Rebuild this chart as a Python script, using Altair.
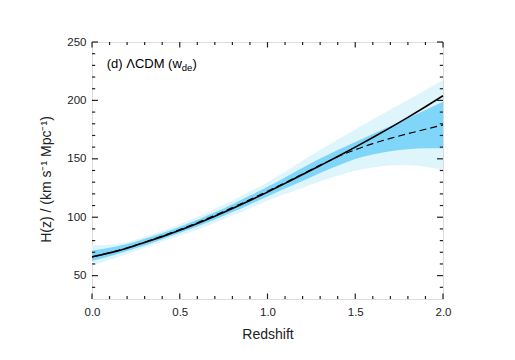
import altair as alt
import pandas as pd

# ---- data ----
redshift = [0.0, 0.1, 0.2, 0.3, 0.4, 0.5, 0.6, 0.7, 0.8, 0.9, 1.0,
            1.1, 1.2, 1.3, 1.4, 1.5, 1.6, 1.7, 1.8, 1.9, 2.0]
h_lcdm = [66.0, 69.5, 73.5, 78.3, 83.4, 88.8, 94.6, 100.8, 107.4, 114.3, 121.5,
          129.0, 136.5, 144.2, 152.0, 160.0, 168.2, 176.7, 185.5, 194.6, 204.0]
h_recon = [66.0, 69.6, 73.8, 78.7, 83.9, 89.4, 95.3, 101.6, 108.2, 115.1, 122.3,
           129.6, 137.0, 144.6, 151.8, 157.8, 163.0, 167.5, 171.5, 175.3, 179.0]
lo_1sig = [62.5, 66.5, 71.0, 75.8, 81.2, 86.5, 92.0, 98.0, 104.4, 111.0, 117.8,
           124.5, 131.0, 137.8, 144.0, 149.8, 153.8, 156.5, 158.2, 159.0, 159.0]
hi_1sig = [71.5, 73.8, 77.0, 81.5, 86.6, 91.9, 97.8, 104.2, 111.2, 118.5, 126.0,
           134.0, 142.3, 150.3, 157.5, 164.4, 171.2, 178.0, 184.8, 191.8, 198.8]
lo_2sig = [58.5, 63.5, 68.5, 73.8, 79.2, 84.2, 89.5, 95.2, 101.4, 107.6, 114.0,
           119.8, 125.3, 130.6, 135.5, 139.8, 142.5, 144.3, 144.8, 143.3, 140.5]
hi_2sig = [76.0, 76.5, 78.8, 83.3, 88.5, 94.2, 100.3, 107.0, 114.3, 122.0, 130.0,
           139.0, 148.3, 157.5, 166.5, 175.2, 183.8, 192.2, 200.6, 209.0, 217.5]

x_major = [0.0, 0.5, 1.0, 1.5, 2.0]
x_minor = [0.1, 0.2, 0.3, 0.4, 0.6, 0.7, 0.8, 0.9, 1.1, 1.2, 1.3, 1.4, 1.6, 1.7, 1.8, 1.9]
y_major = [50, 100, 150, 200, 250]
y_minor = [40, 60, 70, 80, 90, 110, 120, 130, 140, 160, 170, 180, 190, 210, 220, 230, 240]

label_main = "(d) \u039bCDM (w"
label_sub = "de"
label_close = ")"
x_title = "Redshift"
y_title = "H(z) / (km s\u207b\u00b9 Mpc\u207b\u00b9)"

W, H = 351, 257
FONT = "Liberation Sans"
INK = "#222222"

df = pd.DataFrame({"z": redshift, "lcdm": h_lcdm, "recon": h_recon,
                   "lo1": lo_1sig, "hi1": hi_1sig, "lo2": lo_2sig, "hi2": hi_2sig})

xs = alt.Scale(domain=[0, 2], nice=False, zero=False)
ys = alt.Scale(domain=[30, 250], nice=False, zero=False)

x_axis = alt.Axis(values=x_major, format=".1f", ticks=False, domain=False, grid=False,
                  labelFlush=False, labelPadding=7, labelFontSize=11.5, labelFont=FONT,
                  labelColor=INK, title=x_title, titleFont=FONT, titleFontSize=14,
                  titleFontWeight="normal", titleColor=INK, titlePadding=10)
y_axis = alt.Axis(values=y_major, ticks=False, domain=False, grid=False,
                  labelFlush=False, labelPadding=6, labelFontSize=11.5, labelFont=FONT,
                  labelColor=INK, title=y_title, titleFont=FONT, titleFontSize=14,
                  titleFontWeight="normal", titleColor=INK, titlePadding=13, titleY=137)


def X(field):
    return alt.X(field, scale=xs, axis=x_axis)


def Y(field):
    return alt.Y(field, scale=ys, axis=y_axis)


base = alt.Chart(df)

band2 = base.mark_area(color="#dff5fc", opacity=1, interpolate="monotone").encode(
    x=X("z:Q"), y=Y("lo2:Q"), y2="hi2:Q")
band1 = base.mark_area(color="#80d6f9", opacity=1, interpolate="monotone").encode(
    x=X("z:Q"), y=Y("lo1:Q"), y2="hi1:Q")
dashed = base.mark_line(color="black", strokeWidth=1.2, strokeDash=[7, 4],
                        interpolate="monotone").encode(x=X("z:Q"), y=Y("recon:Q"))
solid = base.mark_line(color="black", strokeWidth=1.6, interpolate="monotone").encode(
    x=X("z:Q"), y=Y("lcdm:Q"))


def xticks(vals, length):
    d = alt.Chart(pd.DataFrame({"v": vals}))
    bottom = d.mark_rule(color=INK, strokeWidth=1.2).encode(
        x=X("v:Q"), y=alt.value(H), y2=alt.value(H - length))
    top = d.mark_rule(color=INK, strokeWidth=1.2).encode(
        x=X("v:Q"), y=alt.value(0), y2=alt.value(length))
    return [bottom, top]


def yticks(vals, length):
    d = alt.Chart(pd.DataFrame({"v": vals}))
    left = d.mark_rule(color=INK, strokeWidth=1.2).encode(
        y=Y("v:Q"), x=alt.value(0), x2=alt.value(length))
    right = d.mark_rule(color=INK, strokeWidth=1.2).encode(
        y=Y("v:Q"), x=alt.value(W), x2=alt.value(W - length))
    return [left, right]


ticks = xticks(x_major, 5.5) + xticks(x_minor, 3) + yticks(y_major, 6) + yticks(y_minor, 3.2)

one = alt.Chart(pd.DataFrame({"a": [0]}))
t_main = one.mark_text(text=label_main, font=FONT, fontSize=13, color="black",
                       align="left", baseline="alphabetic").encode(
    x=alt.value(14.7), y=alt.value(26.0))
t_sub = one.mark_text(text=label_sub, font=FONT, fontSize=9.5, color="black",
                      align="left", baseline="alphabetic").encode(
    x=alt.value(89.8), y=alt.value(29.0))
t_close = one.mark_text(text=label_close, font=FONT, fontSize=13, color="black",
                        align="left", baseline="alphabetic").encode(
    x=alt.value(100.6), y=alt.value(26.0))

chart = alt.layer(band2, band1, dashed, solid, *ticks, t_main, t_sub, t_close).properties(
    width=W, height=H,
    autosize=alt.AutoSizeParams(type="none"),
    padding={"left": 84, "top": 34, "right": 64, "bottom": 53},
).configure_view(stroke=INK, strokeWidth=1.5).configure(background="white")

chart.save("out.html", embed_options={"renderer": "svg", "actions": False})
